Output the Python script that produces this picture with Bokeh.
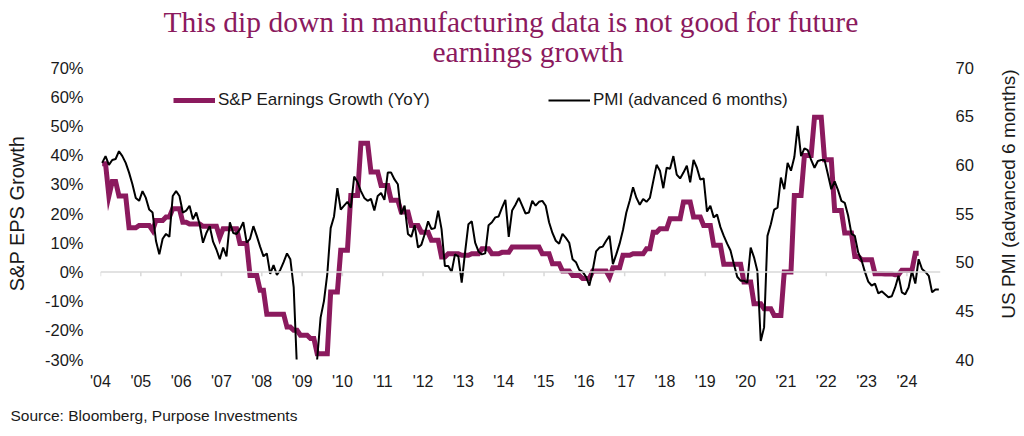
import math
from bokeh.plotting import figure
from bokeh.layouts import row
from bokeh.core.properties import value
from bokeh.models import (Range1d, LinearAxis, FixedTicker, PrintfTickFormatter,
                          Legend, LegendItem, Title, Span)
from bokeh.embed import file_html
from bokeh.resources import INLINE

# ---------------- data ----------------
year_ticks = list(range(2004, 2025))
year_labels = ["'%02d" % (y % 100) for y in year_ticks]

eps_ticks = [-30, -20, -10, 0, 10, 20, 30, 40, 50, 60, 70]
pmi_ticks = [40, 45, 50, 55, 60, 65, 70]

# S&P 500 EPS growth YoY (%), step series: month the value starts -> value
eps_start = ["2004-01", "2004-03", "2004-04", "2004-06", "2004-09", "2004-12",
             "2005-04", "2005-05", "2005-08", "2005-10", "2006-01", "2006-03",
             "2006-07", "2006-12", "2007-01", "2007-06", "2007-09", "2007-12",
             "2008-02", "2008-08", "2008-10", "2008-12", "2009-03", "2009-05",
             "2009-09", "2009-12", "2010-03", "2010-06", "2010-09", "2010-12",
             "2011-03", "2011-06", "2011-09", "2011-12", "2012-03", "2012-06",
             "2012-08", "2012-12", "2013-03", "2013-06", "2013-09", "2013-12",
             "2014-03", "2014-12", "2015-03", "2015-06", "2015-09", "2015-12",
             "2016-03", "2016-08", "2016-09", "2016-12", "2017-03", "2017-07",
             "2017-09", "2017-11", "2018-02", "2018-06", "2018-09", "2018-12",
             "2019-03", "2019-06", "2019-12", "2020-03", "2020-06", "2020-09",
             "2020-12", "2021-03", "2021-06", "2021-09", "2021-12", "2022-03",
             "2022-06", "2022-09", "2022-11", "2023-03", "2023-06", "2023-09",
             "2023-11", "2024-03"]
eps_values = [37, 26, 31, 26, 15.1, 15.9,
              14.2, 17.6, 18.8, 21.6, 17, 16.4,
              15.6, 11.9, 14.8, 9.7, -1.2, -6.3,
              -14.5, -18.9, -20, -21.7, -22.8, -28,
              -6.9, 7.4, 26.2, 44.1, 34.2, 29.6,
              24.5, 20.5, 15.9, 13.6, 10.8, 5.1,
              6.2, 5.7, 6.2, 7.9, 6.2, 6.7,
              8.5, 6.2, 2.8, 0.3, -1.2, -2.3,
              0.3, -1.8, 1.4, 5.7, 6.2, 7.9,
              13.6, 14.8, 18.2, 23.9, 18.8, 15.9,
              9.1, 2.6, -3.5, -10.9, -12.6, -14.9,
              0, 26.2, 39.9, 53, 38.4, 21,
              13.3, 5.3, 4.2, -0.6, -0.7, -1.0,
              0.6, 6.4]
eps_end = "2024-04"

# US manufacturing PMI, advanced 6 months, monthly from Jan 2004
pmi_start = "2004-01"
pmi_values = [
    60.2, 60.9, 60.0, 60.5, 60.6, 61.4, 60.9, 60.2, 59.2, 58.0, 56.6, 56.3,
    57.3, 56.6, 55.4, 55.1, 52.2, 50.8, 52.4, 52.9, 52.6, 56.8, 57.3, 56.8,
    55.1, 55.3, 55.8, 54.4, 55.1, 53.9, 52.0, 53.0, 53.7, 52.1, 51.3, 50.3,
    51.5, 50.6, 54.1, 53.0, 52.9, 53.4, 54.1, 52.0, 52.4, 53.7, 52.7, 51.6,
    50.6, 50.9, 48.8, 49.7, 48.7, 49.2, 50.0, 50.9, 50.3, 47.4, 38.9, 36.2,
    32.4, 35.6, 35.8, 36.3, 40.1, 44.3, 46.0, 48.8, 53.5, 54.7, 57.6, 55.4,
    55.8, 56.2, 55.6, 58.8, 58.2, 57.3, 56.6, 56.3, 56.5, 55.3, 56.8, 57.1,
    56.4, 59.2, 59.2, 58.5, 58.0, 54.9, 55.8, 52.9, 52.6, 53.8, 51.5, 51.8,
    52.9, 54.2, 53.4, 53.5, 55.3, 53.4, 49.6, 49.6, 49.0, 50.8, 50.6, 47.9,
    51.0, 53.9, 54.2, 52.0, 51.1, 50.8, 50.9, 53.8, 54.1, 54.6, 54.7, 55.6,
    56.4, 52.6, 55.3, 55.9, 56.6, 55.8, 55.0, 55.1, 56.3, 55.8, 56.2, 56.3,
    55.8, 54.1, 53.0, 52.2, 51.9, 52.9, 52.5, 52.0, 50.3, 50.0, 49.2, 49.0,
    48.5, 47.6, 49.2, 51.1, 51.5, 51.6, 52.2, 52.7, 49.8, 50.8, 51.9, 53.3,
    55.1, 56.3, 57.7, 56.6, 55.9, 56.5, 56.2, 56.6, 58.3, 60.0, 59.4, 57.6,
    59.7, 59.6, 60.9, 59.0, 58.6, 59.2, 59.9, 58.2, 60.5, 59.7, 58.5, 58.6,
    55.2, 55.8, 54.6, 54.9, 53.6, 52.7, 51.9, 51.2, 49.8, 48.5, 48.1, 48.1,
    47.9, 51.5, 50.5, 49.1, 41.9, 43.3, 52.7, 53.9, 55.4, 55.6, 58.7, 57.5,
    60.2, 59.4, 60.8, 64.0, 60.9, 61.7, 61.5, 60.5, 59.7, 60.4, 60.5, 60.5,
    59.0, 57.5, 58.3, 57.4, 56.3, 56.1, 54.8, 52.9, 52.7, 51.0, 50.2, 49.0,
    48.0, 47.6, 47.8, 46.8, 47.0, 46.7, 46.4, 46.5, 47.4, 48.6, 46.9, 46.7,
    47.4, 49.1, 47.8, 50.3, 49.3, 49.0, 48.6, 46.9, 47.2, 47.2,
]

title_lines = ["This dip down in manufacturing data is not good for future",
               "earnings growth"]
right_axis_label = "US PMI (advanced 6 months)"

# ---------------- helpers ----------------
def month_index(s):
    y, m = s.split("-")
    return (int(y) - 2004) * 12 + int(m) - 1

def month_x(i):
    return 2004 + (i + 0.5) / 12.0

# expand the EPS step series into monthly points
eps_idx = [month_index(s) for s in eps_start] + [month_index(eps_end) + 1]
eps_x, eps_y = [], []
for k, v in enumerate(eps_values):
    for i in range(eps_idx[k], eps_idx[k + 1]):
        eps_x.append(month_x(i))
        eps_y.append(v)

p0 = month_index(pmi_start)
pmi_x = [month_x(p0 + i) for i in range(len(pmi_values))]

PURPLE = "#8b1a5e"
FONT = "Liberation Sans"
TXT = "#1a1a1a"

MAIN_W = 990
p = figure(width=MAIN_W, height=436, output_backend="svg", toolbar_location=None,
           x_range=Range1d(2004, 2004 + 250 / 12.0), y_range=Range1d(-30, 70),
           min_border_left=100, min_border_right=MAIN_W - 940, min_border_top=67,
           min_border_bottom=77, background_fill_color="white",
           border_fill_color="white", outline_line_color=None)
p.extra_y_ranges = {"pmi": Range1d(40, 70)}
p.grid.visible = False
p.title = None

# title: second line first (closest to plot), then first line above it
for txt, so, off in zip(reversed(title_lines), [-1, -6], [332, 63]):
    p.add_layout(Title(text=txt, align="left", text_font="Liberation Serif",
                       text_font_size="29.5px", text_font_style="normal",
                       text_color=PURPLE, standoff=so, offset=off), "above")

# zero line with year tick marks
p.add_layout(Span(location=0, dimension="width", line_color="#d9d9d9", line_width=1.5))
p.segment(x0=year_ticks, x1=year_ticks, y0=[0] * len(year_ticks),
          y1=[-1.5] * len(year_ticks), line_color="#d9d9d9", line_width=1.5)

r_eps = p.line(eps_x, eps_y, line_color=PURPLE, line_width=5, line_join="miter")
r_pmi = p.line(pmi_x, pmi_values, line_color="black", line_width=2, y_range_name="pmi")

# x axis
xa = p.xaxis[0]
xa.ticker = FixedTicker(ticks=year_ticks)
xa.major_label_overrides = {y: l for y, l in zip(year_ticks, year_labels)}
xa.axis_line_color = None
xa.major_tick_line_color = None
xa.minor_tick_line_color = None
xa.major_tick_out = 0
xa.major_tick_in = 0
xa.major_label_standoff = 13
xa.major_label_text_font = FONT
xa.major_label_text_font_size = "16px"
xa.major_label_text_color = TXT

# left axis
ya = p.yaxis[0]
ya.ticker = FixedTicker(ticks=eps_ticks)
ya.formatter = PrintfTickFormatter(format="%d%%")
ya.axis_label = "S&P EPS Growth"
ya.axis_label_text_font = FONT
ya.axis_label_text_font_size = "20px"
ya.axis_label_text_font_style = "normal"
ya.axis_label_text_color = TXT
ya.axis_label_standoff = 14
ya.axis_line_color = None
ya.major_tick_line_color = None
ya.minor_tick_line_color = None
ya.major_tick_out = 0
ya.major_tick_in = 0
ya.major_label_standoff = 17
ya.major_label_text_font = FONT
ya.major_label_text_font_size = "16.5px"
ya.major_label_text_color = TXT

# right axis (its title is drawn in a narrow strip so it reads bottom-to-top)
ra = LinearAxis(y_range_name="pmi", ticker=FixedTicker(ticks=pmi_ticks))
ra.axis_line_color = None
ra.major_tick_line_color = None
ra.minor_tick_line_color = None
ra.major_tick_out = 0
ra.major_tick_in = 0
ra.major_label_standoff = 15
ra.major_label_text_font = FONT
ra.major_label_text_font_size = "16.5px"
ra.major_label_text_color = TXT
p.add_layout(ra, "right")

# legends
def make_legend(label, rend, loc):
    lg = Legend(items=[LegendItem(label=label, renderers=[rend])], location=loc,
                orientation="horizontal", border_line_color=None,
                background_fill_alpha=0, padding=0, margin=0, glyph_width=42,
                glyph_height=16, label_standoff=3, label_height=16,
                label_text_font=FONT, label_text_font_size="17px",
                label_text_color=TXT)
    p.add_layout(lg)

make_legend("S&P Earnings Growth (YoY)", r_eps, (73, 249))
make_legend("PMI (advanced 6 months)", r_pmi, (448, 249))

p.add_layout(Title(text="Source: Bloomberg, Purpose Investments", align="left",
                   offset=-90, text_font=FONT, text_font_size="15.5px",
                   text_font_style="normal", text_color=TXT, standoff=25), "below")

# narrow strip holding the right axis title
SIDE_W = 1024 - MAIN_W
side = figure(width=SIDE_W, height=436, output_backend="svg",
              toolbar_location=None, x_range=Range1d(0, SIDE_W), y_range=Range1d(0, 436),
              x_axis_location=None, y_axis_location=None, min_border=0,
              outline_line_color=None, background_fill_color="white",
              border_fill_color="white")
side.grid.visible = False
side.text(x=[1008 - MAIN_W], y=[436 - 189], text=[right_axis_label], angle=math.pi / 2,
          text_align="center", text_baseline="middle", text_font=value(FONT),
          text_font_size=value("19px"), text_color=TXT)

layout = row(p, side, spacing=0)
open("out.html", "w").write(file_html(layout, INLINE))
